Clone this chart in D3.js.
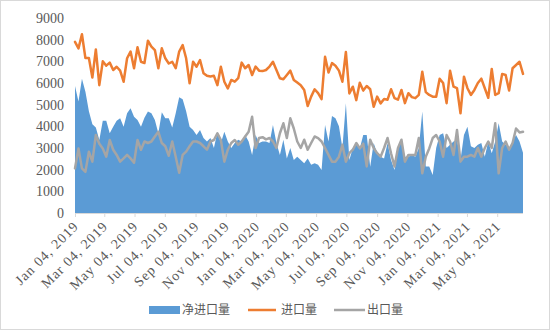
<!DOCTYPE html>
<html>
<head>
<meta charset="utf-8">
<script src="https://cdn.jsdelivr.net/npm/d3@7"></script>
<style>
  html, body { margin: 0; padding: 0; background: #fff; }
  svg { display: block; }
</style>
</head>
<body>
<svg id="chart" width="550" height="330"></svg>
<script>
// Weekly series, first week ending Jan 04, 2019
const startDate = "2019-01-04";

const seriesNames = ["净进口量", "进口量", "出口量"];

// 进口量 (imports)
const importValues = [
  7900, 7600, 8250, 7150, 7150, 6250, 7550, 5900, 7000, 6800,
  6940, 6600, 6750, 6570, 6060, 7140, 7450, 6680, 7650, 6980,
  6920, 7950, 7680, 7520, 6680, 7600, 7140, 6900, 6980, 6680,
  7450, 7750, 7140, 5990, 6980, 6750, 7060, 6450, 6330, 6300,
  6330, 5900, 6750, 6060, 5750, 6140, 6060, 6220, 6940, 6680,
  6830, 6370, 6760, 6570, 6550, 6600, 6760, 6980, 6600, 6220,
  6170, 6370, 6570, 6140, 6020, 5900, 5680, 4940, 5370, 5710,
  5530, 5250, 7210, 6480, 6920, 6800, 6570, 6060, 7430, 5520,
  5830, 5210, 6010, 5650, 5860, 5710, 4900, 5370, 5060, 5260,
  5230, 5710, 5300, 5230, 5680, 5070, 5530, 5350, 5300, 5450,
  6520, 5580, 5450, 5370, 5370, 6200, 6000, 5070, 6570, 5830,
  5760, 4600, 6290, 5760, 5450, 5680, 6000, 6200, 5760, 5320,
  6650, 5450, 5530, 6420, 6370, 5650, 6680, 6830, 6980, 6420
];

// 出口量 (exports)
const exportValues = [
  2060, 2980, 2060, 1900, 2830, 2370, 3600, 3200, 2980, 2600,
  3370, 2920, 2680, 2370, 2520, 2680, 2520, 2320, 3370, 2920,
  3300, 3230, 3300, 3530, 3750, 3230, 3080, 2640, 3300, 2600,
  1860, 2680, 2830, 3080, 3300, 3300, 3230, 3080, 2920, 3300,
  3370, 3680, 3370, 2370, 2920, 3230, 3370, 3150, 3300, 3530,
  3750, 4440, 3000, 3460, 3500, 3400, 3460, 3300, 3000, 3680,
  4140, 3460, 4370, 3900, 3300, 3000, 3380, 2920, 3230, 3530,
  3460, 3300, 3000, 2680, 2370, 2370, 2600, 3150, 2370, 2760,
  2920, 3230, 2980, 3200, 2150, 3380, 3000, 2760, 2600, 3000,
  3460, 2760, 2150, 3000, 3380, 2370, 2680, 2680, 2680, 3460,
  1830, 2600, 2980, 3460, 3600, 3300, 2600, 3600, 3300, 2680,
  3830, 2370, 2600, 2600, 2680, 2600, 3000, 2600, 3000, 3300,
  3000, 4140, 1830, 3000, 3300, 2920, 3230, 3900, 3720, 3750
];

// 净进口量 (net imports)
const netValues = [
  5860, 5150, 6200, 5600, 4700, 4100, 3950, 3370, 4260, 4260,
  3680, 3980, 4260, 4370, 3980, 4600, 4830, 4440, 4290, 3980,
  4400, 4680, 4600, 4290, 3680, 4650, 4370, 4370, 3950, 4600,
  5340, 5250, 4700, 3980, 3830, 3600, 3830, 3460, 3300, 3460,
  3000, 3750, 3230, 3750, 3300, 3000, 3230, 3380, 3300, 3600,
  3300, 2680, 3600, 3230, 3300, 3300, 3230, 4060, 3230, 2680,
  3380, 2520, 3000, 2450, 2600, 2450, 2300, 2520, 2230, 2300,
  2230, 1980, 4060, 3300, 4480, 4370, 4000, 3000, 5060, 2450,
  3000, 3230, 2980, 3600, 3600, 2140, 3230, 2760, 2600, 2520,
  3230, 2450, 1980, 2920, 3380, 2600, 2600, 2680, 2600, 3000,
  4680, 2150, 2150, 1750, 3000, 3600, 3680, 3000, 3150, 3300,
  3380, 2450, 3600, 3980, 3080, 3000, 3150, 3230, 2600, 3300,
  2760, 3300, 4140, 3300, 3150, 3000, 3300, 3600, 3300, 2780
];

const yTicks = [0, 1000, 2000, 3000, 4000, 5000, 6000, 7000, 8000, 9000];

const xTickLabels = [
  "Jan 04, 2019", "Mar 04, 2019", "May 04, 2019", "Jul 04, 2019",
  "Sep 04, 2019", "Nov 04, 2019", "Jan 04, 2020", "Mar 04, 2020",
  "May 04, 2020", "Jul 04, 2020", "Sep 04, 2020", "Nov 04, 2020",
  "Jan 04, 2021", "Mar 04, 2021", "May 04, 2021"
];

const colors = { net: "#5B9BD5", imp: "#ED7D31", exp: "#A5A5A5" };

// ---- build rows ----
const parseIso = d3.timeParse("%Y-%m-%d");
const parseTick = d3.timeParse("%b %d, %Y");
const t0 = parseIso(startDate);
const rows = importValues.map((v, i) => ({
  date: d3.timeDay.offset(t0, 7 * i),
  imp: v,
  exp: exportValues[i],
  net: netValues[i]
}));

const svg = d3.select("#chart");
const W = 550, H = 330;
const plot = { left: 75, right: 523, top: 18, bottom: 213 };
const serif = "'Liberation Serif', 'Times New Roman', serif";

// outer chart border
svg.append("rect")
  .attr("x", 0.5).attr("y", 0.5)
  .attr("width", W - 1).attr("height", H - 1)
  .attr("fill", "#fff").attr("stroke", "#d9d9d9");

const x = d3.scaleTime()
  .domain(d3.extent(rows, d => d.date))
  .range([plot.left, plot.right]);

const y = d3.scaleLinear()
  .domain([0, 9000])
  .range([plot.bottom, plot.top]);

// net import area
svg.append("path")
  .datum(rows)
  .attr("fill", colors.net)
  .attr("d", d3.area()
    .x(d => x(d.date))
    .y0(y(0))
    .y1(d => y(d.net)));

// import / export lines
[["imp", colors.imp], ["exp", colors.exp]].forEach(([key, c]) => {
  svg.append("path")
    .datum(rows)
    .attr("fill", "none")
    .attr("stroke", c)
    .attr("stroke-width", 2.5)
    .attr("stroke-linejoin", "round")
    .attr("stroke-linecap", "round")
    .attr("d", d3.line()
      .x(d => x(d.date))
      .y(d => y(d[key])));
});

// y axis (labels only)
const yAxis = svg.append("g")
  .attr("transform", `translate(${plot.left - 11},0)`)
  .call(d3.axisLeft(y).tickValues(yTicks).tickSize(0).tickPadding(0).tickFormat(d3.format("d")));
yAxis.select(".domain").remove();
yAxis.selectAll("text")
  .attr("font-family", serif)
  .attr("font-size", 14)
  .attr("fill", "#595959");

// x axis
const xTickDates = xTickLabels.map(s => parseTick(s));
const xAxis = svg.append("g")
  .attr("transform", `translate(0,${plot.bottom})`)
  .call(d3.axisBottom(x).tickValues(xTickDates).tickSizeOuter(0).tickSizeInner(4)
    .tickFormat((d, i) => xTickLabels[i]));
xAxis.select(".domain")
  .attr("stroke", "#d9d9d9")
  .attr("d", `M${plot.left},0.5H${plot.right}`);
xAxis.selectAll(".tick line").attr("stroke", "#d9d9d9");
xAxis.selectAll("text")
  .attr("font-family", serif)
  .attr("font-size", 14)
  .attr("letter-spacing", "1px")
  .attr("fill", "#595959")
  .attr("text-anchor", "end")
  .attr("dy", null)
  .attr("y", 0)
  .attr("transform", "translate(4,14) rotate(-45)");

// legend
const legend = svg.append("g")
  .attr("font-family", "'Noto Sans CJK SC', sans-serif")
  .attr("font-size", 12)
  .attr("fill", "#595959");
const ly = 310;
legend.append("rect")
  .attr("x", 149).attr("y", ly - 4).attr("width", 31).attr("height", 8)
  .attr("fill", colors.net);
legend.append("text").attr("x", 182).attr("y", ly).attr("dy", "0.35em").text(seriesNames[0]);
legend.append("line")
  .attr("x1", 248).attr("x2", 276).attr("y1", ly).attr("y2", ly)
  .attr("stroke", colors.imp).attr("stroke-width", 2.5);
legend.append("text").attr("x", 281).attr("y", ly).attr("dy", "0.35em").text(seriesNames[1]);
legend.append("line")
  .attr("x1", 334).attr("x2", 365).attr("y1", ly).attr("y2", ly)
  .attr("stroke", colors.exp).attr("stroke-width", 2.5);
legend.append("text").attr("x", 367).attr("y", ly).attr("dy", "0.35em").text(seriesNames[2]);
</script>
</body>
</html>
